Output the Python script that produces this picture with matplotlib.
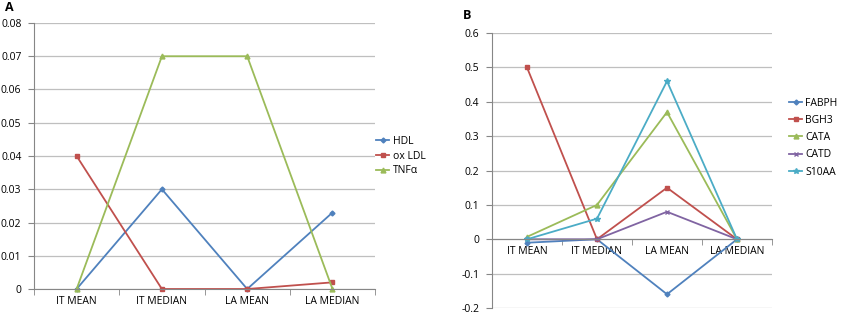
import numpy as np
import matplotlib.pyplot as plt

plt.rcParams['font.family'] = ['Open Sans', 'DejaVu Sans']

categories = ['IT MEAN', 'IT MEDIAN', 'LA MEAN', 'LA MEDIAN']

# panel A
a_names = ['HDL', 'ox LDL', 'TNF\u03b1']
hdl = [0, 0.03, 0, 0.023]
ox_ldl = [0.04, 0, 0, 0.002]
tnfa = [0, 0.07, 0.07, 0]
a_ticks = [0, 0.01, 0.02, 0.03, 0.04, 0.05, 0.06, 0.07, 0.08]
a_ticklabels = ['0', '0.01', '0.02', '0.03', '0.04', '0.05', '0.06', '0.07', '0.08']

# panel B
b_names = ['FABPH', 'BGH3', 'CATA', 'CATD', 'S10AA']
fabph = [-0.01, 0, -0.16, 0]
bgh3 = [0.5, 0, 0.15, 0]
cata = [0.007, 0.1, 0.37, 0]
catd = [0, 0, 0.08, 0]
s10aa = [0, 0.06, 0.46, 0]
b_ticks = [-0.2, -0.1, 0, 0.1, 0.2, 0.3, 0.4, 0.5, 0.6]
b_ticklabels = ['-0.2', '-0.1', '0', '0.1', '0.2', '0.3', '0.4', '0.5', '0.6']

colors = ['#4F81BD', '#C0504D', '#9BBB59', '#8064A2', '#4BACC6']
markers = ['D', 's', '^', 'x', '*']
msizes = [2.5, 3.5, 3.5, 3.5, 4]

fig = plt.figure(figsize=(8.43, 3.15), dpi=100)

def style_ax(ax, ticks, ticklabels, lo, hi):
    x = np.arange(len(categories))
    ax.set_xlim(-0.5, len(categories) - 0.5)
    ax.set_ylim(lo, hi)
    ax.set_yticks(ticks)
    ax.set_yticklabels(ticklabels)
    ax.yaxis.grid(True, color='#BFBFBF', linewidth=0.9)
    ax.set_axisbelow(True)
    for s in ['top', 'right']:
        ax.spines[s].set_visible(False)
    ax.spines['left'].set_color('#868686')
    ax.spines['bottom'].set_color('#868686')
    ax.set_xticks(x)
    ax.set_xticklabels(categories)
    ax.set_xticks(np.arange(-0.5, len(categories)), minor=True)

def tick_style(ax):
    ax.tick_params(axis='x', which='major', length=0, pad=5, labelsize=7.5)
    ax.tick_params(axis='x', which='minor', length=4, color='#868686')
    ax.tick_params(axis='y', length=4, color='#868686', pad=5, labelsize=7.5, direction='out')

# panel A
axA = fig.add_axes([0.0403, 0.0825, 0.4047, 0.8445])
style_ax(axA, a_ticks, a_ticklabels, 0, 0.08)
tick_style(axA)
for i, ys in enumerate([hdl, ox_ldl, tnfa]):
    axA.plot(np.arange(4), ys, color=colors[i], marker=markers[i], markersize=msizes[i],
             linewidth=1.3, label=a_names[i], clip_on=False)
axA.legend(loc='center left', bbox_to_anchor=(0.99, 0.5), frameon=False, fontsize=7.5,
           handlelength=1.3, handletextpad=0.3, labelspacing=0.35, borderaxespad=0)
fig.text(0.006, 0.965, 'A', fontsize=9, fontweight='bold')

# panel B
axB = fig.add_axes([0.5836, 0.0222, 0.3322, 0.8728])
style_ax(axB, b_ticks, b_ticklabels, -0.2, 0.6)
axB.spines['bottom'].set_position(('data', 0))
tick_style(axB)
for i, ys in enumerate([fabph, bgh3, cata, catd, s10aa]):
    axB.plot(np.arange(4), ys, color=colors[i], marker=markers[i], markersize=msizes[i],
             linewidth=1.3, label=b_names[i], clip_on=False)
axB.legend(loc='center left', bbox_to_anchor=(1.045, 0.62), frameon=False, fontsize=7.5,
           handlelength=1.3, handletextpad=0.3, labelspacing=0.6, borderaxespad=0)
fig.text(0.549, 0.94, 'B', fontsize=9, fontweight='bold')

fig.savefig('out.png', dpi=100)
